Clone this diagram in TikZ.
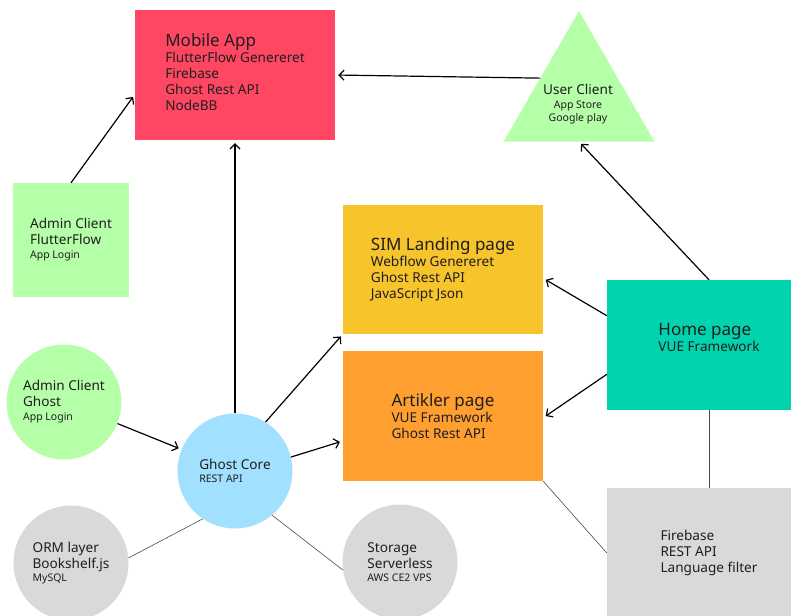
\documentclass[tikz,border=0pt]{standalone}
\usepackage{fontspec}
\setmainfont{Noto Sans}
\usetikzlibrary{arrows.meta,shapes.geometric}
\definecolor{appred}{HTML}{FF4763}
\definecolor{simyellow}{HTML}{F7C42C}
\definecolor{artorange}{HTML}{FF9F30}
\definecolor{hometeal}{HTML}{00D3AE}
\definecolor{clientgreen}{HTML}{B6FFA9}
\definecolor{coreblue}{HTML}{A2E0FF}
\definecolor{infragray}{HTML}{D9D9D9}
\definecolor{txtgray}{HTML}{1E1E1E}
\definecolor{linegray}{HTML}{4A4A4A}
\newcommand{\ttl}[1]{{\fontsize{17}{16}\selectfont #1}}
\newcommand{\sml}[1]{{\fontsize{10.5}{12}\selectfont #1}}
\begin{document}
\begin{tikzpicture}[x=1pt,y=-1pt,
  >={Straight Barb[length=5pt,width=10pt]},
  box/.style={rectangle,inner sep=0pt,minimum width=200pt,minimum height=130pt,
    align=left,text=txtgray,font=\fontsize{13.6}{16}\selectfont},
  ball/.style={circle,inner sep=0pt,minimum size=115pt,
    align=left,text=txtgray,font=\fontsize{13.6}{16}\selectfont},
  arr/.style={->,line width=1.2pt,shorten >=3pt},
  link/.style={line width=0.6pt,draw=linegray}]
\useasboundingbox (0,0) rectangle (791,615);
% pages and apps
\node[box,fill=appred] (mobile) at (235,75)
  {\ttl{Mobile App}\\FlutterFlow Genereret\\Firebase\\Ghost Rest API\\NodeBB\rule[-6pt]{0pt}{6pt}};
\node[box,fill=simyellow,minimum height=129pt] (sim) at (443,269.5)
  {\ttl{SIM Landing page}\\Webflow Genereret\\Ghost Rest API\\JavaScript Json};
\node[box,fill=artorange] (art) at (443,416)
  {\ttl{Artikler page}\\VUE Framework\\Ghost Rest API};
\node[box,fill=hometeal,minimum width=204pt] (home) at (709,345)
  {\ttl{Home page}\\VUE Framework\rule[-15pt]{0pt}{15pt}};
\node[box,fill=infragray,minimum width=204pt] (fire) at (709,553)
  {Firebase\\REST API\\Language filter};
\node[box,fill=clientgreen,minimum width=116pt,minimum height=114pt] (adminff) at (71,240)
  {Admin Client\\FlutterFlow\\[-2pt]\sml{App Login}};
% user client triangle
\node[regular polygon,regular polygon sides=3,fill=clientgreen,inner sep=0pt,
  minimum size=174pt] (user) at (579,98) {};
\node[align=center,text=txtgray,font=\fontsize{13.6}{16}\selectfont] (usertxt) at (578,104)
  {User Client\\[-2pt]\sml{App Store}\\[-3pt]\sml{Google play}};
% circles
\node[ball,fill=clientgreen] (adming) at (64,402)
  {Admin Client\\Ghost\\[-2pt]\sml{App Login}};
\node[ball,fill=coreblue] (ghost) at (235,471)
  {Ghost Core\\[-3pt]\sml{REST API}};
\node[ball,fill=infragray] (orm) at (71,563)
  {ORM layer\\Bookshelf.js\\[-3pt]\sml{MySQL}};
\node[ball,fill=infragray] (store) at (400,562)
  {Storage\\Serverless\\[-3pt]\sml{AWS CE2 VPS}};
% connectors
\draw[arr] (user.153) -- (mobile.east);
\draw[arr] (adminff.north) -- (mobile.191);
\draw[arr] (ghost.north) -- (mobile.south);
\draw[arr] (ghost.58) -- (sim.south west);
\draw[arr] (ghost.14) -- (art.194);
\draw[arr] (adming) -- (ghost);
\draw[arr] (home.164) -- (sim.355);
\draw[arr] (home.196) -- (art.359);
\draw[arr] (home.north) -- (user.side 2);
\draw[link] (orm.5) -- (ghost.236);
\draw[link] (store.188) -- (ghost.310);
\draw[link] (home.south) -- (fire.north);
\draw[link] (art.south east) -- (fire.west);
\end{tikzpicture}
\end{document}
